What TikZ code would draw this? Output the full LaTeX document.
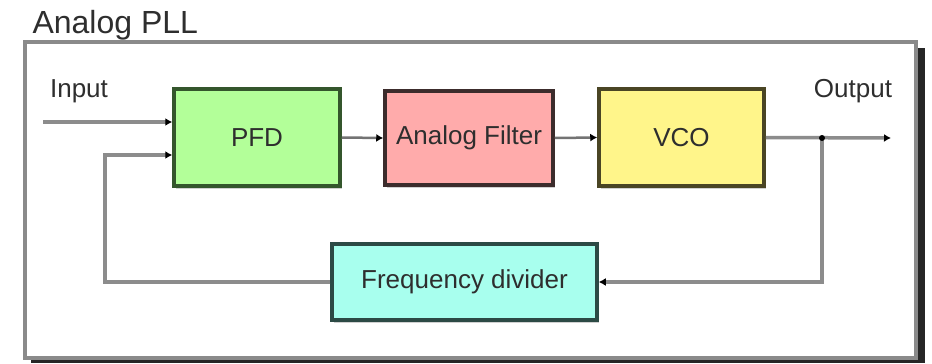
\documentclass[tikz,border=0pt]{standalone}
\usepackage{fontspec}
\setmainfont{Liberation Sans}
\usetikzlibrary{arrows.meta,shadows}
\definecolor{framegray}{HTML}{8A8A8A}
\definecolor{linegray}{HTML}{8C8C8C}
\definecolor{txt}{HTML}{2E2E2E}
\definecolor{pfdfill}{HTML}{B3FF99}
\definecolor{pfddraw}{HTML}{34562C}
\definecolor{fltfill}{HTML}{FFABAB}
\definecolor{fltdraw}{HTML}{3C2C2C}
\definecolor{vcofill}{HTML}{FFF58A}
\definecolor{vcodraw}{HTML}{4A4524}
\definecolor{fdfill}{HTML}{A8FFEE}
\definecolor{fddraw}{HTML}{2C4A45}
\tikzset{
  blk/.style={draw, line width=3.5pt, text=txt, font=\fontsize{26}{30}\selectfont,
    drop shadow={shadow xshift=2pt, shadow yshift=-3pt, fill=black!18, opacity=1}},
  conn/.style={draw=linegray, line width=3.5pt, -{Latex[length=7pt,width=8pt,black]}},
  thinconn/.style={draw=black!55, line width=2.5pt, -{Latex[length=7pt,width=8pt,black]}},
  wire/.style={draw=linegray, line width=3.5pt},
  lbl/.style={text=txt, font=\fontsize{26}{30}\selectfont}
}
\begin{document}
\begin{tikzpicture}[x=1pt,y=-1pt]
\useasboundingbox (0,0) rectangle (932,364);
% outer frame with shadow
\fill[black!85] (31,48) rectangle (925,363);
\draw[framegray, line width=4pt, fill=white] (25,42) rectangle (916,358);
\node[lbl, anchor=base west, font=\fontsize{32}{36}\selectfont] (title) at (29,33) {Analog PLL};

\node[blk, draw=pfddraw, fill=pfdfill, minimum width=166pt, minimum height=97pt] (pfd) at (257,137.5) {PFD};
\node[blk, draw=fltdraw, fill=fltfill, minimum width=168pt, minimum height=94pt] (flt) at (469,138) {Analog Filter};
\node[blk, draw=vcodraw, fill=vcofill, minimum width=165pt, minimum height=97pt] (vco) at (681.5,137.5) {VCO};
\node[blk, draw=fddraw, fill=fdfill, minimum width=265pt, minimum height=76pt] (fd) at (464.5,282) {Frequency divider};

\node[lbl] (inlbl) at (79,91) {Input};
\node[lbl] (outlbl) at (853,91) {Output};

\coordinate (in) at (43,122);
\coordinate (out) at (891,138);
\coordinate (j) at (822,138);
\coordinate (fbc) at (105,155);

\draw[conn] (in) -- (in -| pfd.west);
\draw[conn] (fd.west) -| (fbc) -- (fbc -| pfd.west);
\draw[thinconn] (pfd.east) -- (flt.west);
\draw[thinconn] (flt.east) -- (vco.west);
\draw[conn] (vco.east) -- (out);
\draw[conn] (j) |- (fd.east);
\fill[black] (j) circle (3pt);
\end{tikzpicture}
\end{document}
